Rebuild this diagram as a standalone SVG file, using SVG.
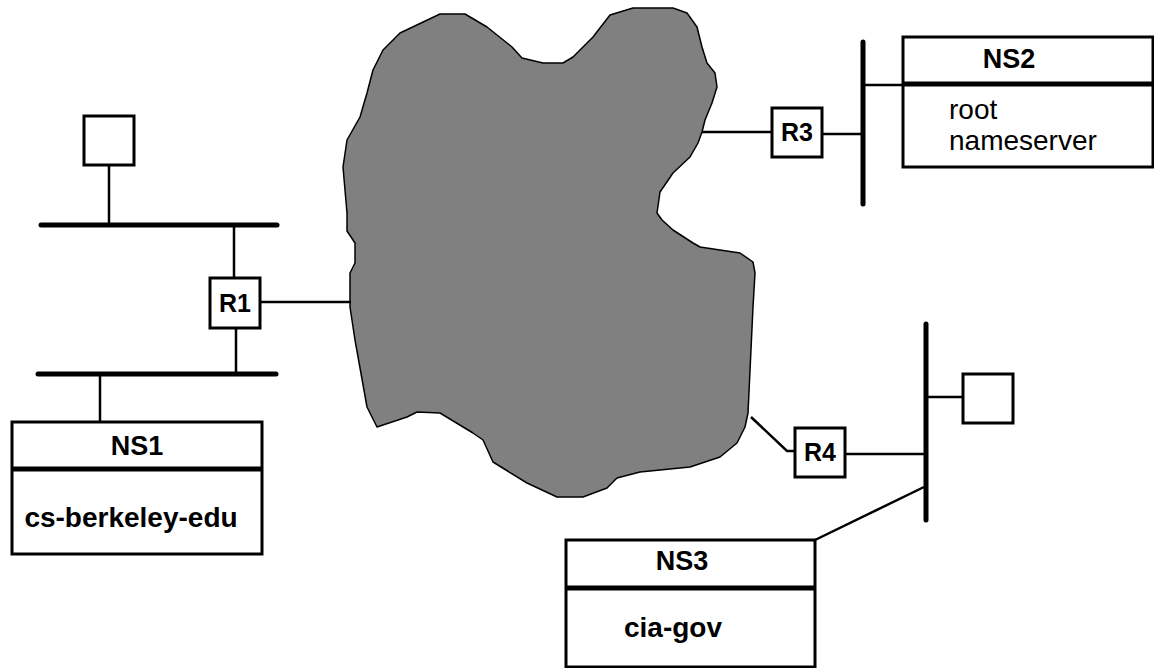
<svg xmlns="http://www.w3.org/2000/svg" width="1154" height="668" viewBox="0 0 1154 668">
  <style>
    .box { fill: #ffffff; stroke: #000000; stroke-width: 3; }
    .div { stroke: #000000; stroke-width: 5; }
    .bus { stroke: #000000; stroke-width: 5; stroke-linecap: round; fill: none; }
    .wire { stroke: #000000; stroke-width: 2.5; fill: none; }
    .lbl { font-family: "Liberation Sans", Arial, sans-serif; font-weight: bold; font-size: 25px; text-anchor: middle; fill: #000000; }
    .big { font-family: "Liberation Sans", Arial, sans-serif; font-weight: bold; font-size: 27px; text-anchor: middle; fill: #000000; }
    .name { font-family: "Liberation Sans", Arial, sans-serif; font-weight: bold; font-size: 28px; text-anchor: middle; fill: #000000; }
    .plain { font-family: "Liberation Sans", Arial, sans-serif; font-size: 28px; fill: #000000; }
  </style>
  <rect width="1154" height="668" fill="#ffffff"/>

  <!-- Internet cloud -->
  <g id="cloud">
    <polygon points="440,14 465,14 487,27 512,47 522,58 543,63 563,63 573,57 593,37 610,15 633,8 673,8 687,13 697,27 702,47 707,63 715,73 717,87 712,103 705,120 702,132 698,143 690,157 673,173 660,192 657,213 662,220 673,230 693,243 700,247 740,253 753,262 755,273 753,307 748,413 745,427 737,443 720,457 690,467 640,472 617,478 607,488 583,497 557,497 527,483 493,462 483,440 473,433 440,413 417,412 407,417 377,427 367,407 355,340 350,307 350,273 355,263 355,243 347,231 347,213 343,167 347,140 360,117 367,93 373,70 383,50 400,33" fill="#808080" stroke="#000000" stroke-width="1.5" stroke-linejoin="round"/>
  </g>

  <!-- Connectors -->
  <g id="connectors">
    <line class="wire" x1="109" y1="165" x2="109" y2="225"/>
    <line class="wire" x1="234" y1="225" x2="234" y2="278"/>
    <line class="wire" x1="260" y1="302" x2="351" y2="302"/>
    <line class="wire" x1="236" y1="328" x2="236" y2="373"/>
    <line class="wire" x1="100" y1="374" x2="100" y2="422"/>
    <line class="wire" x1="702" y1="132" x2="772" y2="132"/>
    <line class="wire" x1="822" y1="134" x2="863" y2="134"/>
    <line class="wire" x1="863" y1="85" x2="903" y2="85"/>
    <polyline class="wire" points="751,417 787,451 795,451"/>
    <line class="wire" x1="845" y1="454" x2="926" y2="454"/>
    <line class="wire" x1="926" y1="397" x2="963" y2="397"/>
    <line class="wire" x1="924" y1="487" x2="815" y2="540"/>
  </g>

  <!-- Left upper host -->
  <g id="host-left">
    <rect class="box" x="84" y="116" width="50" height="49"/>
  </g>

  <!-- Left upper LAN -->
  <g id="lan-upper">
    <line class="bus" x1="41" y1="225" x2="277" y2="225"/>
  </g>

  <!-- Router R1 -->
  <g id="r1">
    <rect class="box" x="210" y="278" width="50" height="50"/>
    <text class="lbl" x="235" y="312">R1</text>
  </g>

  <!-- Left lower LAN -->
  <g id="lan-lower">
    <line class="bus" x1="38" y1="374" x2="276" y2="374"/>
  </g>

  <!-- Name server NS1 -->
  <g id="ns1">
    <rect class="box" x="12" y="422" width="250" height="132"/>
    <line class="div" x1="12" y1="469" x2="262" y2="469"/>
    <text class="big" x="137" y="455">NS1</text>
    <text class="name" x="131" y="527">cs-berkeley-edu</text>
  </g>

  <!-- Router R3 -->
  <g id="r3">
    <rect class="box" x="772" y="108" width="50" height="49"/>
    <text class="lbl" x="797" y="141">R3</text>
  </g>

  <!-- Right upper LAN -->
  <g id="lan-ns2">
    <line class="bus" x1="863" y1="42" x2="863" y2="204"/>
  </g>

  <!-- Name server NS2 -->
  <g id="ns2">
    <rect class="box" x="903" y="37" width="250" height="130"/>
    <line class="div" x1="903" y1="84" x2="1153" y2="84"/>
    <text class="big" x="1009" y="68">NS2</text>
    <text class="plain" x="949" y="119">root</text>
    <text class="plain" x="949" y="150">nameserver</text>
  </g>

  <!-- Router R4 -->
  <g id="r4">
    <rect class="box" x="795" y="428" width="50" height="49"/>
    <text class="lbl" x="820" y="461">R4</text>
  </g>

  <!-- Right lower LAN -->
  <g id="lan-ns3">
    <line class="bus" x1="926" y1="324" x2="926" y2="520"/>
  </g>

  <!-- Right host -->
  <g id="host-right">
    <rect class="box" x="963" y="374" width="50" height="49"/>
  </g>

  <!-- Name server NS3 -->
  <g id="ns3">
    <rect class="box" x="566" y="540" width="249" height="127"/>
    <line class="div" x1="566" y1="588" x2="815" y2="588"/>
    <text class="big" x="682" y="570">NS3</text>
    <text class="name" x="673" y="637">cia-gov</text>
  </g>
</svg>
